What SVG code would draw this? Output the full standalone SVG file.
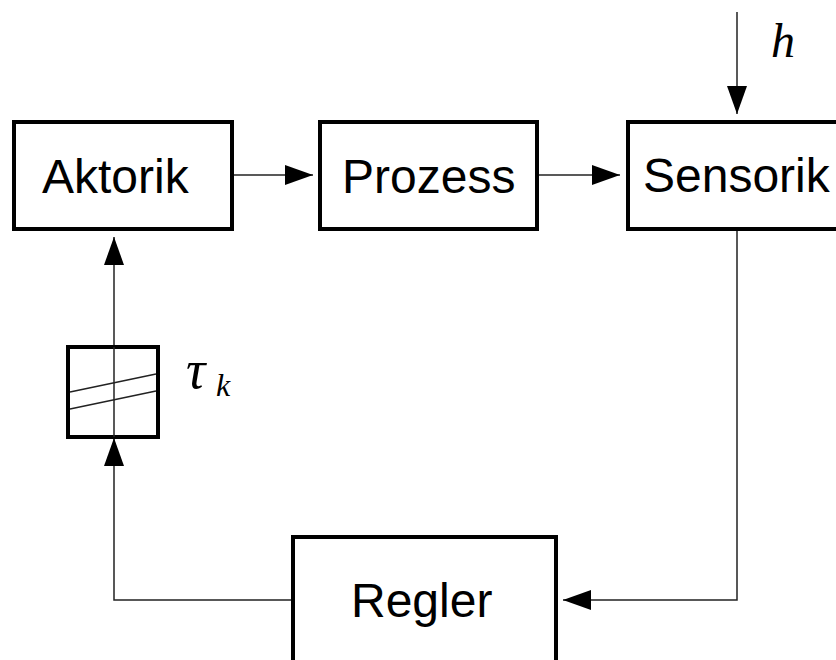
<svg xmlns="http://www.w3.org/2000/svg" width="836" height="660" viewBox="0 0 836 660">
<defs>
<style>
.box{fill:#fff;stroke:#000;stroke-width:4}
.lbl{font-family:"Liberation Sans",Arial,sans-serif;font-size:48px;fill:#000}
.math{font-family:"Liberation Serif","Times New Roman",serif;font-style:italic;fill:#000}
.wire{fill:none;stroke:#222;stroke-width:1.5}
</style>
<marker id="arr" markerWidth="28" markerHeight="20" refX="28" refY="10" orient="auto" markerUnits="userSpaceOnUse">
<path d="M0,0 L28,10 L0,20 Z" fill="#000"/>
</marker>
</defs>
<rect width="836" height="660" fill="#fff"/>
<g id="connectors">
<line class="wire" x1="232" y1="175" x2="313" y2="175" marker-end="url(#arr)"/>
<line class="wire" x1="537" y1="175" x2="620" y2="175" marker-end="url(#arr)"/>
<line class="wire" x1="737" y1="12" x2="737" y2="114" marker-end="url(#arr)"/>
<polyline class="wire" points="737,229 737,600 563,600" marker-end="url(#arr)"/>
<polyline class="wire" points="293,600 114,600 114,438" marker-end="url(#arr)"/>
<line class="wire" x1="114" y1="347" x2="114" y2="237" marker-end="url(#arr)"/>
</g>
<g id="aktorik">
<rect class="box" x="14" y="122" width="218" height="107"/>
<text class="lbl" x="42" y="193">Aktorik</text>
</g>
<g id="prozess">
<rect class="box" x="320" y="122" width="217" height="107"/>
<text class="lbl" x="342" y="193">Prozess</text>
</g>
<g id="sensorik">
<rect class="box" x="628" y="122" width="220" height="107"/>
<text class="lbl" x="643" y="192">Sensorik</text>
</g>
<g id="regler">
<rect class="box" x="293" y="537" width="263" height="140"/>
<text class="lbl" x="351" y="617">Regler</text>
</g>
<g id="delay">
<rect class="box" x="68" y="347" width="90" height="90"/>
<line class="wire" x1="114" y1="347" x2="114" y2="437"/>
<line class="wire" x1="70" y1="392" x2="156" y2="374"/>
<line class="wire" x1="70" y1="409" x2="156" y2="391"/>
</g>
<g id="labels">
<text class="math" x="771" y="57" font-size="48">h</text>
<text class="math" x="186" y="388" font-size="54">τ</text>
<text class="math" x="216" y="396" font-size="32">k</text>
</g>
</svg>
